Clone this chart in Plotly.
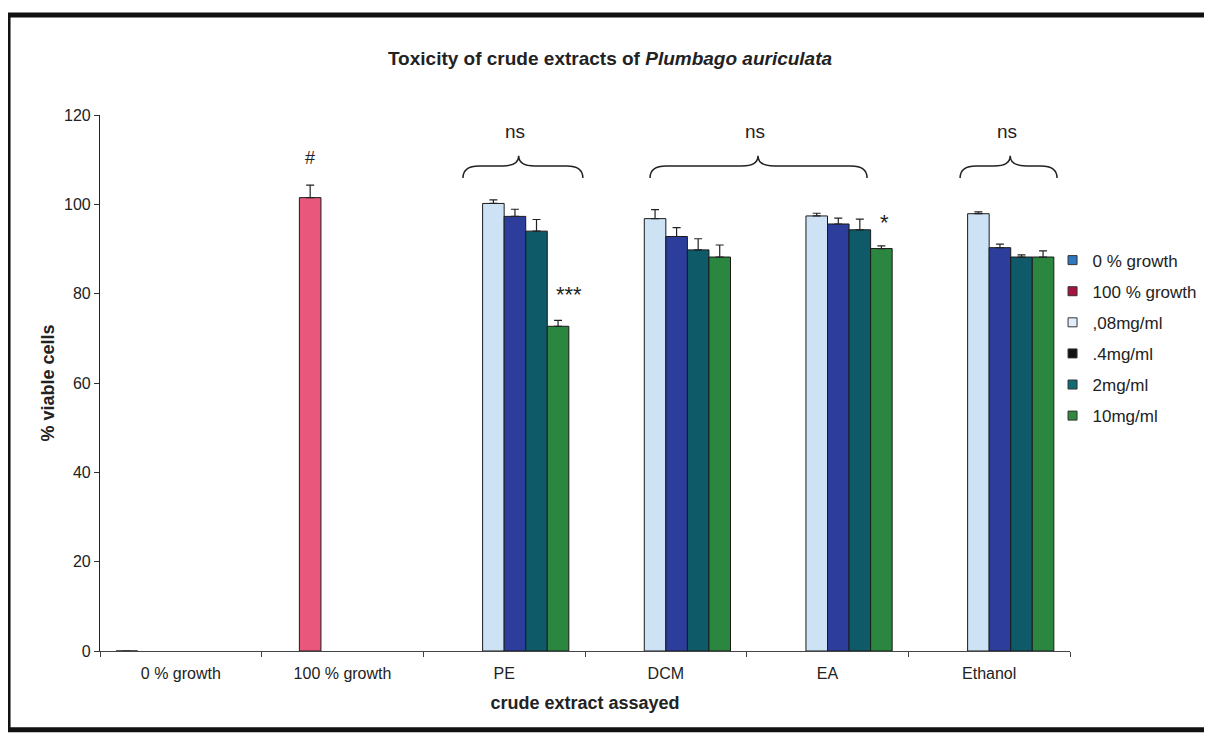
import plotly.graph_objects as go

categories = ["0 % growth", "100 % growth", "PE", "DCM", "EA", "Ethanol"]
series_names = ["0 % growth", "100 % growth", ",08mg/ml", ".4mg/ml", "2mg/ml", "10mg/ml"]

v_0growth = [0, None, None, None, None, None]
v_100growth = [None, 101.5, None, None, None, None]
v_008 = [None, None, 100.2, 96.8, 97.4, 97.9]
v_04 = [None, None, 97.3, 92.8, 95.6, 90.3]
v_2 = [None, None, 94.0, 89.8, 94.3, 88.2]
v_10 = [None, None, 72.7, 88.2, 90.1, 88.2]

e_0growth = [0, None, None, None, None, None]
e_100growth = [None, 2.8, None, None, None, None]
e_008 = [None, None, 0.8, 2.0, 0.6, 0.4]
e_04 = [None, None, 1.6, 2.0, 1.3, 0.8]
e_2 = [None, None, 2.6, 2.5, 2.4, 0.5]
e_10 = [None, None, 1.3, 2.7, 0.6, 1.4]

values = [v_0growth, v_100growth, v_008, v_04, v_2, v_10]
errors = [e_0growth, e_100growth, e_008, e_04, e_2, e_10]
bar_colors = ["#2e75b6", "#e9587c", "#cde3f5", "#2c3d9c", "#0e5a68", "#2b8740"]
legend_colors = ["#2e78c2", "#a8123e", "#dfeefa", "#111111", "#126b73", "#2f8a3e"]

x_pos = list(range(len(categories)))

fig = go.Figure()
for name, vals, errs, col in zip(series_names, values, errors, bar_colors):
    fig.add_trace(go.Bar(
        x=x_pos, y=vals, name=name, marker_color=col,
        marker_line=dict(color="#1a1a1a", width=1),
        error_y=dict(type="data", array=errs, arrayminus=[0 if e is not None else None for e in errs],
                     symmetric=False, visible=True, color="#222",
                     thickness=1.2, width=4),
        showlegend=False,
    ))

for i, (name, col) in enumerate(zip(series_names, legend_colors)):
    fig.add_trace(go.Scatter(
        x=[None], y=[None], mode="markers", name=name, legendgroup=f"g{i}",
        marker=dict(symbol="square", size=9, color=col,
                    line=dict(color="#333", width=1)),
    ))

# significance braces: (left, tip, right) in category units
braces = [(1.745, 2.09, 2.487), (2.902, 3.57, 4.245), (4.82, 5.13, 5.42)]
y_end, y_mid, y_tip = 105.9, 108.6, 110.9
dx = 0.1
for xl, xt, xr in braces:
    path = (f"M {xl},{y_end} Q {xl},{y_mid} {xl+dx},{y_mid} "
            f"L {xt-dx},{y_mid} Q {xt},{y_mid} {xt},{y_tip} "
            f"Q {xt},{y_mid} {xt+dx},{y_mid} L {xr-dx},{y_mid} "
            f"Q {xr},{y_mid} {xr},{y_end}")
    fig.add_shape(type="path", path=path, xref="x", yref="y",
                  line=dict(color="#222", width=1.5))
    fig.add_annotation(x=xt - 0.02, y=116.3, text="ns", showarrow=False,
                       font=dict(size=19, color="#222"), xref="x", yref="y")

fig.add_annotation(x=0.8, y=110.4, text="#", showarrow=False,
                   font=dict(size=18, color="#222"))
fig.add_annotation(x=2.40, y=79.8, text="***", showarrow=False,
                   font=dict(size=22, color="#222"))
fig.add_annotation(x=4.35, y=96.0, text="*", showarrow=False,
                   font=dict(size=22, color="#222"))

# outer frame
fig.add_shape(type="rect", xref="paper", yref="paper",
              x0=-0.0948, x1=1.1433, y0=-0.147, y1=1.1866,
              line=dict(color="#111", width=5))

fig.update_layout(
    width=1212, height=734,
    margin=dict(l=92, r=150, t=107, b=91),
    paper_bgcolor="white", plot_bgcolor="white",
    barmode="group", bargap=0.2, bargroupgap=0,
    font=dict(family="Liberation Sans, Arial, sans-serif", size=16, color="#222"),
    title=dict(text="<b>Toxicity of crude extracts of <i>Plumbago auriculata</i></b>",
               x=0.4967, xref="container", y=0.932, yanchor="middle",
               font=dict(size=19, color="#222")),
    legend=dict(x=0.982, xanchor="left", y=0.762, yanchor="top",
                font=dict(size=17, color="#222"), tracegroupgap=6,
                bgcolor="rgba(0,0,0,0)", itemwidth=30),
    showlegend=True,
)
fig.update_xaxes(
    range=[-0.5, 5.5], tickvals=x_pos, ticktext=categories, ticks="",
    showline=True, linecolor="#444", linewidth=1.2, showgrid=False, zeroline=False,
    minor=dict(tick0=0.5, dtick=1, ticks="outside", ticklen=5, tickcolor="#444"),
    tickfont=dict(size=16), ticklabelstandoff=8,
    title=dict(text="<b>crude extract assayed</b>", font=dict(size=18), standoff=15),
)
fig.update_yaxes(
    range=[0, 120], dtick=20, ticks="outside", ticklen=5, tickcolor="#333",
    showline=True, linecolor="#222", linewidth=1.2, showgrid=False, zeroline=False,
    tickfont=dict(size=16),
    title=dict(text="<b>% viable cells</b>", font=dict(size=18), standoff=4),
)

fig.write_html("out.html")
